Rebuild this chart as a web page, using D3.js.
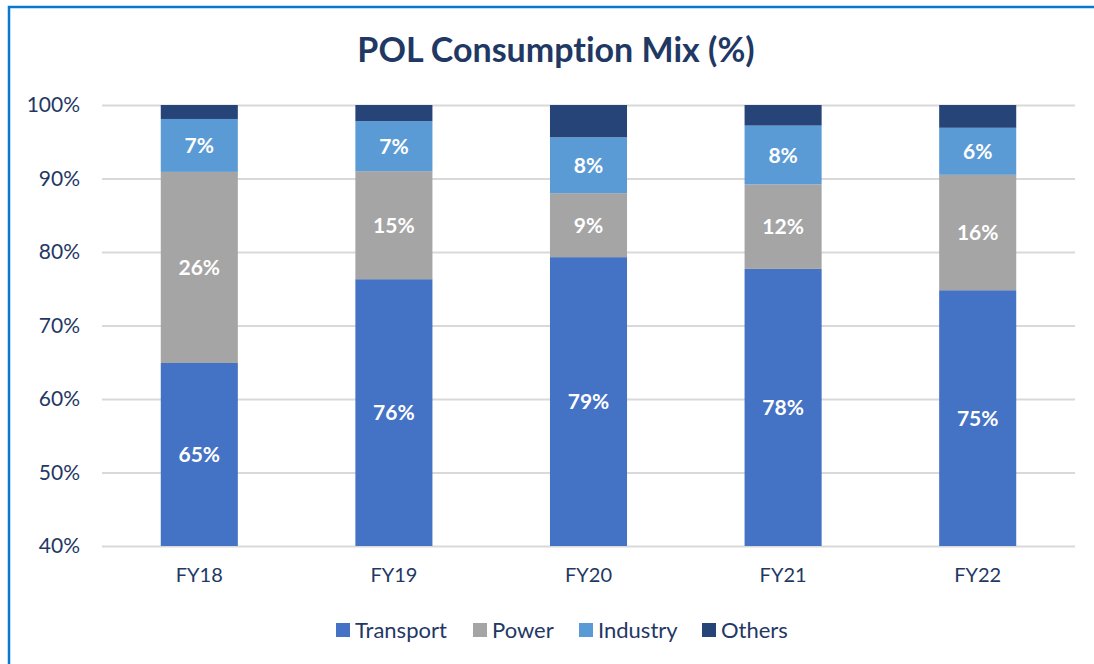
<!DOCTYPE html>
<html>
<head>
<meta charset="utf-8">
<script src="https://cdn.jsdelivr.net/npm/d3@7"></script>
<style>
  body { margin: 0; background: #fff; }
  svg { display: block; font-family: Lato, "Open Sans", sans-serif; font-variant-ligatures: none; }
</style>
</head>
<body>
<svg id="chart" width="1094" height="664"></svg>
<script>
// data (percent share of each year)
const years = ['FY18', 'FY19', 'FY20', 'FY21', 'FY22'];
const seriesNames = ['Transport', 'Power', 'Industry', 'Others'];
const transport = [64.9, 76.3, 79.3, 77.7, 74.8];
const power = [26.0, 14.7, 8.7, 11.5, 15.7];
const industry = [7.2, 6.8, 7.6, 8.0, 6.4];
const others = [1.9, 2.2, 4.4, 2.8, 3.1];
const yTicks = [40, 50, 60, 70, 80, 90, 100];

const colors = ['#4472C4', '#A5A5A5', '#5B9BD5', '#264478'];
const navy = '#1F3864';

const dims = { width: 1094, height: 664, left: 102, right: 1075, top: 105, bottom: 546 };

const rows = years.map((y, i) => ({
    year: y,
    Transport: transport[i],
    Power: power[i],
    Industry: industry[i],
    Others: others[i],
}));

const svg = d3.select('#chart');

// outer frame (only left and top show in the picture)
svg.append('rect')
    .attr('x', 9).attr('y', 7)
    .attr('width', dims.width + 20).attr('height', dims.height + 20)
    .attr('fill', 'none')
    .attr('stroke', '#0B78D0')
    .attr('stroke-width', 2.5);

svg.append('text')
    .attr('x', 556).attr('y', 62)
    .attr('text-anchor', 'middle')
    .attr('font-size', 34).attr('font-weight', 'bold')
    .attr('fill', navy)
    .text('POL Consumption Mix (%)');

const x = d3.scaleBand()
    .domain(years)
    .range([dims.left, dims.right])
    .paddingInner(0.604)
    .paddingOuter(0.302);

const y = d3.scaleLinear()
    .domain([40, 100])
    .range([dims.bottom, dims.top]);

// gridlines + tick labels
const yAxis = d3.axisLeft(y)
    .tickValues(yTicks)
    .tickSize(-(dims.right - dims.left))
    .tickFormat(d => d + '%');

const gY = svg.append('g')
    .attr('transform', `translate(${dims.left},0)`)
    .call(yAxis);
gY.select('.domain').remove();
gY.selectAll('.tick line').attr('stroke', '#D9D9D9').attr('stroke-width', 2);
gY.selectAll('.tick text')
    .attr('x', -22)
    .attr('font-size', 21)
    .attr('font-family', 'Lato, sans-serif')
    .attr('fill', navy);

const stack = d3.stack().keys(seriesNames);
const layers = stack(rows);

const layerG = svg.append('g')
    .selectAll('g')
    .data(layers)
    .join('g')
    .attr('fill', (d, i) => colors[i]);

layerG.selectAll('rect')
    .data(d => d)
    .join('rect')
    .attr('x', d => x(d.data.year))
    .attr('width', x.bandwidth())
    .attr('y', d => y(Math.min(d[1], 100)))
    .attr('height', d => y(Math.max(d[0], 40)) - y(Math.min(d[1], 100)));

// value labels, not for Others
const labelG = svg.append('g');
layers.forEach((layer, li) => {
    if (seriesNames[li] === 'Others') return;
    layer.forEach(d => {
        const lo = Math.max(d[0], 40);
        const hi = Math.min(d[1], 100);
        labelG.append('text')
            .attr('x', x(d.data.year) + x.bandwidth() / 2)
            .attr('y', (y(lo) + y(hi)) / 2)
            .attr('dy', '0.36em')
            .attr('text-anchor', 'middle')
            .attr('font-size', 21)
            .attr('font-weight', 'bold')
            .attr('fill', '#fff')
            .text(Math.round(d[1] - d[0]) + '%');
    });
});

// x labels
const xAxis = d3.axisBottom(x).tickSize(0).tickPadding(22);
const gX = svg.append('g')
    .attr('transform', `translate(0,${dims.bottom})`)
    .call(xAxis);
gX.select('.domain').remove();
gX.selectAll('.tick text')
    .attr('font-size', 20)
    .attr('font-family', 'Lato, sans-serif')
    .attr('fill', navy);

// legend
const legendX = [336, 473, 579, 702];
const legend = svg.append('g')
    .selectAll('g')
    .data(seriesNames)
    .join('g')
    .attr('transform', (d, i) => `translate(${legendX[i]},630)`);
legend.append('rect')
    .attr('x', 0).attr('y', -7)
    .attr('width', 14).attr('height', 14)
    .attr('fill', (d, i) => colors[i]);
legend.append('text')
    .attr('x', 19).attr('dy', '0.36em')
    .attr('font-size', 22)
    .attr('fill', navy)
    .text(d => d);
</script>
</body>
</html>
